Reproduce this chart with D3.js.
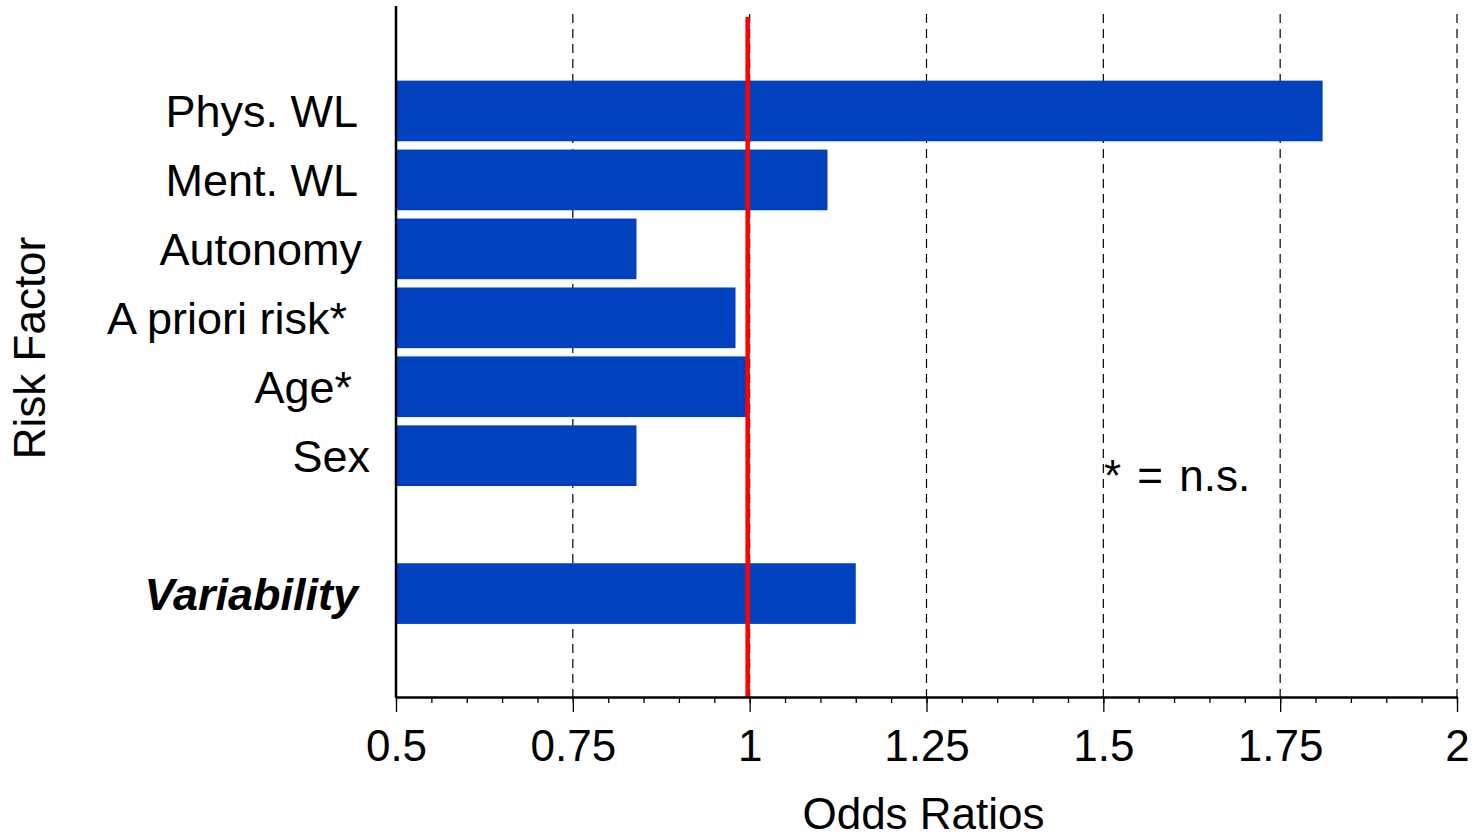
<!DOCTYPE html>
<html>
<head>
<meta charset="utf-8">
<script src="https://cdn.jsdelivr.net/npm/d3@7"></script>
<style>
  body { margin: 0; background: #fff; }
  text { font-family: "Liberation Sans", Arial, sans-serif; fill: #000; }
</style>
</head>
<body>
<script>
// data
const factors = ['Phys. WL', 'Ment. WL', 'Autonomy', 'A priori risk*', 'Age*', 'Sex', '', 'Variability', ' '];
const oddsRatios = [1.81, 1.11, 0.84, 0.98, 0.995, 0.84, null, 1.15, null];
const xTicks = [0.5, 0.75, 1, 1.25, 1.5, 1.75, 2];
const xMinorTicks = d3.range(0.5, 2.0001, 0.05);
const gridValues = [0.75, 1, 1.25, 1.5, 1.75, 2];
const refValue = 1;

const w = 1481;
const h = 840;
const left = 396;
const right = 1457;
const axisY = 697;

// small per-label horizontal nudges so the labels line up like the original
const labelShift = { 'A priori risk*': -11, 'Age*': -6, 'Sex': 12, 'Autonomy': 4 };

const svg = d3.select('body')
              .append('svg')
              .attr('width', w)
              .attr('height', h);

const xScale = d3.scaleLinear()
                 .domain([0.5, 2])
                 .range([left, right]);

const yScale = d3.scaleBand()
                 .domain(factors)
                 .range([76.5, axisY])
                 .paddingInner(0.12)
                 .paddingOuter(0.06);

// dashed grid
svg.selectAll('.grid')
   .data(gridValues)
   .enter()
   .append('line')
   .attr('class', 'grid')
   .attr('x1', (d) => xScale(d))
   .attr('x2', (d) => xScale(d))
   .attr('y1', 14)
   .attr('y2', axisY)
   .attr('stroke', '#000')
   .attr('stroke-width', 1.2)
   .attr('stroke-dasharray', '9,6');

const rows = factors.map((f, i) => ({ name: f, value: oddsRatios[i] }));

// bars
svg.selectAll('.bar')
   .data(rows.filter((d) => d.value !== null))
   .enter()
   .append('rect')
   .attr('class', 'bar')
   .attr('x', xScale(0.5))
   .attr('y', (d) => yScale(d.name))
   .attr('width', (d) => xScale(d.value) - xScale(0.5))
   .attr('height', yScale.bandwidth())
   .attr('fill', '#0041c0');

// reference line at OR = 1
svg.append('line')
   .attr('x1', xScale(refValue) - 2)
   .attr('x2', xScale(refValue) - 2)
   .attr('y1', 17)
   .attr('y2', axisY)
   .attr('stroke', '#ff0000')
   .attr('stroke-width', 4.5);

// category labels
svg.selectAll('.cat')
   .data(rows.filter((d) => d.name.trim() !== ''))
   .enter()
   .append('text')
   .attr('class', 'cat')
   .attr('x', (d) => 358 + (labelShift[d.name] || 0))
   .attr('y', (d) => yScale(d.name) + yScale.bandwidth() / 2 + 16)
   .attr('text-anchor', 'end')
   .attr('font-size', 45)
   .attr('font-weight', (d) => d.name === 'Variability' ? 'bold' : 'normal')
   .attr('font-style', (d) => d.name === 'Variability' ? 'italic' : 'normal')
   .text((d) => d.name);

// x axis: minor ticks first, then the major ones with labels
const minorAxis = d3.axisBottom(xScale)
                    .tickValues(xMinorTicks)
                    .tickSize(6)
                    .tickFormat('');
const xAxis = d3.axisBottom(xScale)
                .tickValues(xTicks)
                .tickSize(15)
                .tickSizeOuter(0)
                .tickPadding(18)
                .tickFormat((d) => String(d));

svg.append('g')
   .attr('transform', 'translate(0,' + axisY + ')')
   .call(minorAxis)
   .call((g) => g.select('.domain').remove())
   .selectAll('line').attr('stroke-width', 1.3);

const gx = svg.append('g')
              .attr('id', 'x-axis')
              .attr('transform', 'translate(0,' + axisY + ')')
              .call(xAxis);
gx.select('.domain').attr('stroke-width', 2.5);
gx.selectAll('line').attr('stroke-width', 1.3);
gx.selectAll('text')
  .attr('font-size', 44)
  .attr('font-family', '"Liberation Sans", Arial, sans-serif')
  .attr('fill', '#000');

// left axis line
svg.append('line')
   .attr('x1', left)
   .attr('x2', left)
   .attr('y1', 6)
   .attr('y2', axisY + 1)
   .attr('stroke', '#000')
   .attr('stroke-width', 2.5);

// axis titles
svg.append('text')
   .text('Odds Ratios')
   .attr('x', (left + right) / 2 - 3)
   .attr('y', 829)
   .attr('text-anchor', 'middle')
   .attr('font-size', 44);

svg.append('text')
   .text('Risk Factor')
   .attr('text-anchor', 'middle')
   .attr('font-size', 44)
   .attr('transform', 'translate(45, 348)rotate(-90)');

svg.append('text')
   .text('* = n.s.')
   .attr('x', 1104)
   .attr('y', 491)
   .attr('font-size', 44)
   .attr('xml:space', 'preserve')
   .style('word-spacing', '4px');
</script>
</body>
</html>
